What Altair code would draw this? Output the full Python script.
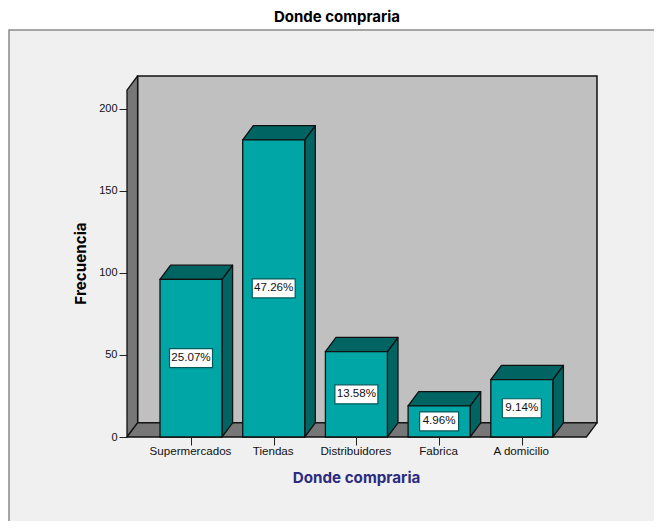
import altair as alt
import pandas as pd

categories = ["Supermercados", "Tiendas", "Distribuidores", "Fabrica", "A domicilio"]
counts = [96, 181, 52, 19, 35]
percents = ["25.07%", "47.26%", "13.58%", "4.96%", "9.14%"]
y_ticks = [0, 50, 100, 150, 200]

FONT = "Liberation Sans"
TITLE_FONT = "Inter"
FRONT, DARK = "#00a6a6", "#006462"
WALL, BACK, PANEL = "#777777", "#c0c0c0", "#f0f0f0"

# Scale geometry: one category slot is 82.7 px wide, one count is 1.642 px tall
W, H = 470, 361
SLOT, UNIT = 82.7, 1.642
x_dom = [-64 / SLOT, (W - 64) / SLOT]
y_dom = [0, H / UNIT]
DX, DY = 10.6 / SLOT, 14.2 / UNIT   # 3-D depth in data units
HALF = 31 / SLOT                    # half a bar
xs = alt.Scale(domain=x_dom, nice=False, zero=False)
ys = alt.Scale(domain=y_dom, nice=False, zero=False)
X0, X1 = x_dom[0], x_dom[1] - DX
Y1 = y_dom[1] - DY

x_axis = alt.Axis(
    values=list(range(len(categories))), grid=False, domain=False, tickColor="#222222",
    tickSize=8, tickWidth=1, labelFont=FONT, labelFontSize=11.6, labelColor="#111111", labelPadding=0,
    labelOffset=-1, labelExpr="%s[datum.value]" % str(categories), labelAngle=0, zindex=1,
    title="Donde compraria", titleFont=TITLE_FONT, titleFontSize=15.2, titleFontWeight="bold",
    titleColor="#2b2b80", titleX=229, titleY=40, titleAnchor="middle", titleBaseline="middle",
)
y_axis = alt.Axis(
    values=y_ticks, grid=False, domain=False, tickColor="#222222", tickSize=8, tickWidth=1,
    labelFont=FONT, labelFontSize=11, labelColor="#111111", labelPadding=2, zindex=1,
    title="Frecuencia", titleFont=TITLE_FONT, titleFontSize=15.2, titleFontWeight="bold", titleColor="#000000",
    titleX=-47, titleY=187, titleAnchor="middle", titleBaseline="middle", titleAngle=270,
)


def X():
    return alt.X("x:Q", scale=xs, axis=x_axis)


def Y():
    return alt.Y("y:Q", scale=ys, axis=y_axis)


OUT = dict(stroke="#111111", strokeWidth=1.3, strokeJoin="round", opacity=1)

panel = alt.Chart(pd.DataFrame({"a": [0]})).mark_rect(
    fill=PANEL, stroke="#8a8a8a", strokeWidth=1.5
).encode(x=alt.value(-118), x2=alt.value(580), y=alt.value(-46), y2=alt.value(480))

back_wall = alt.Chart(pd.DataFrame({"x": [x_dom[0] + DX], "x2": [x_dom[1]], "y": [DY], "y2": [y_dom[1]]})).mark_rect(
    fill=BACK, stroke="#111111", strokeWidth=1.5
).encode(x=X(), x2="x2:Q", y=Y(), y2="y2:Q")

left_wall = alt.Chart(pd.DataFrame({
    "x": [X0, X0 + DX], "y": [0, DY], "y2": [Y1, y_dom[1]]
})).mark_area(fill=WALL, **OUT).encode(x=X(), y=Y(), y2="y2:Q")

floor = alt.Chart(pd.DataFrame({
    "y": [0, DY], "x": [X0, X0 + DX], "x2": [X1, x_dom[1]]
})).mark_area(fill=WALL, orient="horizontal", **OUT).encode(x=X(), x2="x2:Q", y=Y())

front_rows, side_rows, top_rows, box_rows, text_rows = [], [], [], [], []
for i, (v, p) in enumerate(zip(counts, percents)):
    l, r = i - HALF, i + HALF
    front_rows.append({"x": l, "x2": r, "y": 0, "y2": v})
    side_rows += [{"b": i, "x": r, "y": 0, "y2": v}, {"b": i, "x": r + DX, "y": DY, "y2": v + DY}]
    top_rows += [{"b": i, "y": v, "x": l, "x2": r}, {"b": i, "y": v + DY, "x": l + DX, "x2": r + DX}]
    hw = (21.5 if len(p) == 6 else 19.5) / SLOT
    box_rows.append({"x": i - hw, "x2": i + hw, "y": v / 2 - 9.5 / UNIT, "y2": v / 2 + 9.5 / UNIT})
    text_rows.append({"x": i, "y": v / 2, "t": p})

sides = alt.Chart(pd.DataFrame(side_rows)).mark_area(fill=DARK, **OUT).encode(
    x=X(), y=Y(), y2="y2:Q", detail="b:N")
tops = alt.Chart(pd.DataFrame(top_rows)).mark_area(fill=DARK, orient="horizontal", **OUT).encode(
    x=X(), x2="x2:Q", y=Y(), detail="b:N")
fronts = alt.Chart(pd.DataFrame(front_rows)).mark_rect(fill=FRONT, stroke="#111111", strokeWidth=1.3).encode(
    x=X(), x2="x2:Q", y=Y(), y2="y2:Q")
boxes = alt.Chart(pd.DataFrame(box_rows)).mark_rect(fill="#ffffff", stroke="#005a5a", strokeWidth=1.2).encode(
    x=X(), x2="x2:Q", y=Y(), y2="y2:Q")
texts = alt.Chart(pd.DataFrame(text_rows)).mark_text(
    font=FONT, fontSize=11.6, color="#111111", baseline="middle", align="center"
).encode(x=X(), y=Y(), text="t:N")

chart = alt.layer(panel, back_wall, left_wall, floor, sides, tops, fronts, boxes, texts).properties(
    width=W, height=H,
    title=alt.TitleParams("Donde compraria", font=TITLE_FONT, fontSize=15, fontWeight="bold", color="#000000",
                          anchor="middle", frame="group", dx=-25, offset=-8, baseline="alphabetic"),
    autosize=alt.AutoSizeParams(type="none"),
    padding={"left": 119, "top": 68, "right": 57, "bottom": 84},
    background="#ffffff",
).configure_view(stroke=None)

chart.save("out.html", embed_options={"renderer": "svg", "actions": False})
